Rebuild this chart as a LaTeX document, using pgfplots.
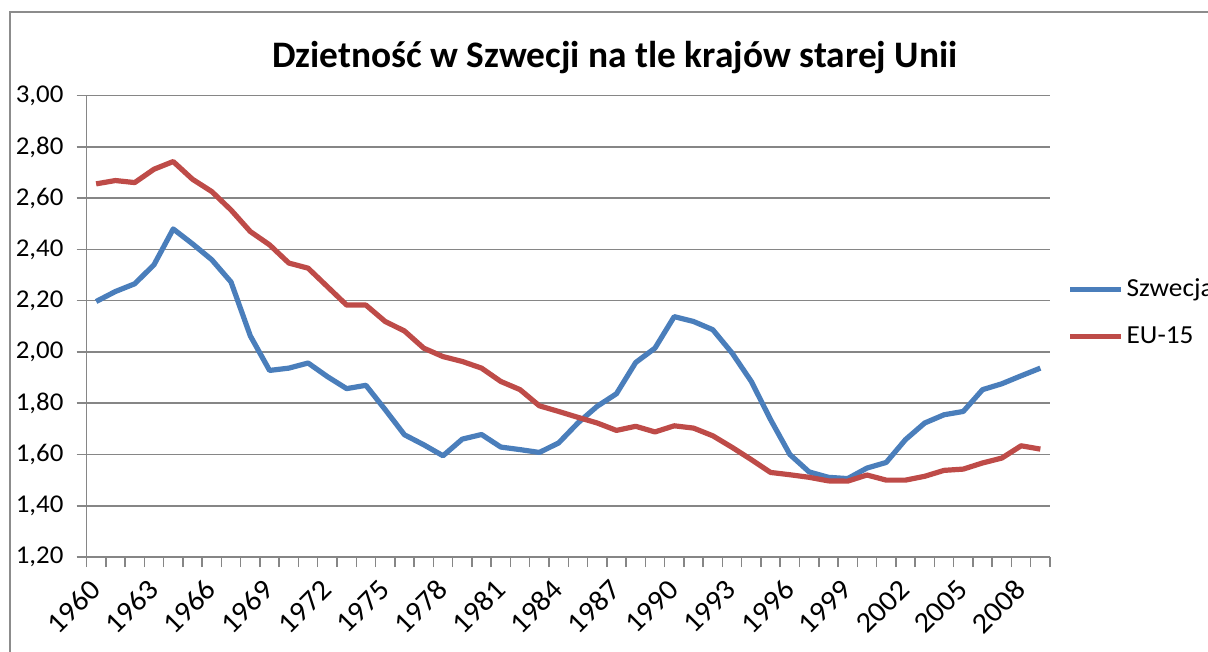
\documentclass[border=0pt]{standalone}
\usepackage{fontspec}
\setmainfont{Carlito}[FakeStretch=1.05]
\newfontfamily\titlefont{Carlito}
\usepackage{pgfplots}
\pgfplotsset{compat=1.18}
\definecolor{sblue}{HTML}{4A7EBB}
\definecolor{sred}{HTML}{BE4B48}
\definecolor{gridg}{HTML}{868686}
\definecolor{frameg}{HTML}{8C8C8C}

\pgfplotstableread{
year swe eu
1960 2.197 2.656
1961 2.236 2.669
1962 2.266 2.661
1963 2.340 2.713
1964 2.480 2.743
1965 2.422 2.674
1966 2.360 2.626
1967 2.273 2.554
1968 2.063 2.470
1969 1.928 2.418
1970 1.937 2.347
1971 1.957 2.327
1972 1.904 2.255
1973 1.857 2.183
1974 1.870 2.183
1975 1.775 2.119
1976 1.677 2.082
1977 1.638 2.015
1978 1.595 1.982
1979 1.660 1.963
1980 1.678 1.937
1981 1.629 1.885
1982 1.619 1.853
1983 1.608 1.790
1984 1.645 1.768
1985 1.723 1.745
1986 1.788 1.723
1987 1.837 1.694
1988 1.959 1.710
1989 2.015 1.688
1990 2.138 1.712
1991 2.119 1.703
1992 2.087 1.673
1993 1.996 1.628
1994 1.885 1.580
1995 1.736 1.530
1996 1.600 1.521
1997 1.532 1.511
1998 1.511 1.497
1999 1.506 1.496
2000 1.547 1.520
2001 1.569 1.500
2002 1.658 1.500
2003 1.723 1.515
2004 1.755 1.538
2005 1.768 1.543
2006 1.853 1.567
2007 1.876 1.586
2008 1.907 1.634
2009 1.937 1.621
}\datatable

\begin{document}
\begin{tikzpicture}
\useasboundingbox (0,0) rectangle (604pt,-326pt);
\draw[frameg, line width=1.2pt] (5pt,-340pt) -- (5pt,-6pt) -- (620pt,-6pt);
\node[font=\titlefont\bfseries\fontsize{18.7}{22}\selectfont] at (307.5pt,-29pt) {Dzietność w Szwecji na tle krajów starej Unii};
\begin{axis}[
  at={(43.25pt,-278.5pt)}, anchor=south west,
  scale only axis, width=481.75pt, height=230.65pt,
  xmin=1959.5, xmax=2009.5, ymin=1.2, ymax=3.0,
  axis lines=left,
  axis line style={-, gridg, line width=0.75pt},
  tick align=outside,
  major tick length=5pt, minor tick length=5pt,
  tick style={gridg, line width=0.75pt},
  xtick={1960,1963,1966,1969,1972,1975,1978,1981,1984,1987,1990,1993,1996,1999,2002,2005,2008},
  xticklabels={1960,1963,1966,1969,1972,1975,1978,1981,1984,1987,1990,1993,1996,1999,2002,2005,2008},
  minor xtick={1959.5,1960.5,...,2009.5},
  major x tick style={draw=none},
  minor x tick style={draw=gridg, line width=0.75pt},
  ytick={1.2,1.4,1.6,1.8,2.0,2.2,2.4,2.6,2.8,3.0},
  ymajorgrids,
  grid style={gridg, line width=0.75pt},
  /pgf/number format/assume math mode=true,
  yticklabel={\pgfmathprintnumber[fixed, fixed zerofill, precision=2, use comma]{\tick}},
  yticklabel style={font=\fontsize{12.8}{15}\selectfont, text=black, xshift=-3pt},
  xticklabel style={font=\fontsize{14.5}{17}\selectfont, text=black, rotate=45, anchor=east, yshift=-6pt, xshift=-3pt},
  legend style={draw=none, fill=none, at={(1.0177,0.53)}, anchor=west,
    inner sep=0pt, row sep=10.5pt, nodes={inner sep=1.5pt},
    cells={anchor=west}, font=\fontsize{13}{15}\selectfont},
  legend image code/.code={\draw[#1] (0pt,0pt) -- (25.5pt,0pt);},
  clip=false,
]
\addplot[sblue, line width=2.6pt, line join=round] table[x=year, y=swe] {\datatable};
\addlegendentry{Szwecja}
\addplot[sred, line width=2.6pt, line join=round] table[x=year, y=eu] {\datatable};
\addlegendentry{EU-15}
\end{axis}
\end{tikzpicture}
\end{document}
